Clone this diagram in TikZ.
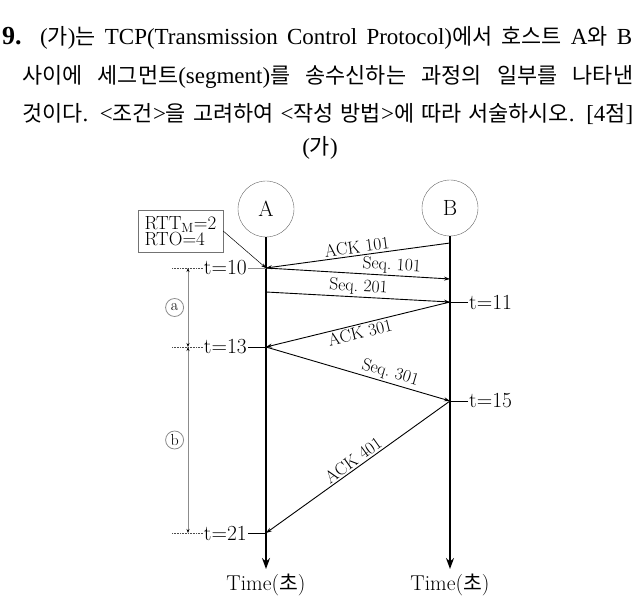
\documentclass[tikz,border=0pt]{standalone}
\usepackage{fontspec}
\newfontfamily\kr[Scale=0.95]{Noto Sans CJK KR}
\newfontfamily\ser{Liberation Serif}
\usetikzlibrary{arrows.meta}
\newcommand\fsz[1]{\fontsize{#1}{#1}\selectfont}

\tikzset{
  host/.style={draw=black!60, circle, minimum size=56pt, inner sep=0pt, font=\fsz{22}},
  life/.style={line width=1.6pt, -{Stealth[length=11pt,width=8pt]}},
  msg/.style={line width=0.9pt, -{Stealth[length=6pt,width=4pt]}},
  msglbl/.style={font=\fsz{17.5}, inner sep=2pt, sloped, above},
  tlbl/.style={font=\fsz{21.5}, inner sep=1pt},
  tick/.style={line width=0.7pt},
  guide/.style={densely dotted, line width=0.6pt, black!70},
  dim/.style={draw=black!45, line width=0.8pt, {Stealth[length=4pt,width=3pt,black]}-{Stealth[length=4pt,width=3pt,black]}},
  circ/.style={draw, circle, minimum size=18pt, inner sep=0pt, font=\fsz{16}},
  titleline/.style={anchor=base west, inner sep=0pt, font=\ser\fsz{23}}
}

\begin{document}
\begin{tikzpicture}[x=1pt, y=-1pt]
    \useasboundingbox (0,0) rectangle (642,612);

    % Question text
    \node (num) at (2,45) [titleline, font=\ser\bfseries\fsz{26}] {9.};
    \node (line1) at (40,45) [titleline] {\makebox[592pt][s]{({\kr 가}){\kr 는} TCP(Transmission Control Protocol){\kr 에서} {\kr 호스트} A{\kr 와} B}};
    \node (line2) at (22,84) [titleline] {\makebox[611pt][s]{{\kr 사이에} {\kr 세그먼트}(segment){\kr 를} {\kr 송수신하는} {\kr 과정의} {\kr 일부를} {\kr 나타낸}}};
    \node (line3) at (22,122) [titleline] {\makebox[611pt][s]{{\kr 것이다}. <{\kr 조건}>{\kr 을} {\kr 고려하여} <{\kr 작성} {\kr 방법}>{\kr 에} {\kr 따라} {\kr 서술하시오}. [4{\kr 점}]}};
    \node (ga) at (320,148) [font=\ser\fsz{23}] {({\kr 가})};

    % Hosts and time lines
    \node (A) at (266,209) [host] {A};
    \node (B) at (450,208) [host] {B};
    \coordinate (Aend) at (266,569);
    \coordinate (Bend) at (450,569);
    \draw[life] (A.south) -- (Aend);
    \draw[life] (B.south) -- (Bend);
    \node (timeA) at (266,585) [tlbl] {Time({\kr 초})};
    \node (timeB) at (450,585) [tlbl] {Time({\kr 초})};

    % Send and receive points
    \coordinate (a10) at (266,268);
    \coordinate (aseq) at (266,292);
    \coordinate (a13) at (266,347);
    \coordinate (a21) at (266,533);
    \coordinate (back) at (450,243);
    \coordinate (bseq) at (450,279);
    \coordinate (b11) at (450,302);
    \coordinate (b15) at (450,401);

    % Segments
    \draw[msg] (back) -- (a10);
    \draw[msg] (a10) -- (bseq);
    \draw[msg] (aseq) -- (b11);
    \draw[msg] (b11) -- (a13);
    \draw[msg] (a13) -- (b15);
    \draw[msg] (b15) -- (a21);
    \path (a10) -- node[msglbl, pos=0.5] {ACK 101} (back);
    \path (a10) -- node[msglbl, pos=0.68] {Seq.~101} (bseq);
    \path (aseq) -- node[msglbl, pos=0.5] {Seq.~201} (b11);
    \path (a13) -- node[msglbl, below, pos=0.5] {ACK 301} (b11);
    \path (a13) -- node[msglbl, pos=0.66] {Seq.~301} (b15);
    \path (a21) -- node[msglbl, pos=0.5] {ACK 401} (b15);

    % Time marks
    \node (t10) at (248,268) [tlbl, anchor=east] {t=10};
    \node (t13) at (248,347) [tlbl, anchor=east] {t=13};
    \node (t21) at (248,533) [tlbl, anchor=east] {t=21};
    \node (t11) at (468,302) [tlbl, anchor=west] {t=11};
    \node (t15) at (468,401) [tlbl, anchor=west] {t=15};
    \draw[tick, black!45] (t10) -- (a10);
    \draw[tick] (t13) -- (a13);
    \draw[tick] (t21) -- (a21);
    \draw[tick] (t11) -- (b11);
    \draw[tick] (t15) -- (b15);

    % Dotted guides
    \coordinate (g10) at (172,268);
    \coordinate (g13) at (172,347);
    \coordinate (g21) at (172,533);
    \draw[guide] (g10) -- (t10.west);
    \draw[guide] (g13) -- (t13.west);
    \draw[guide] (g21) -- (t21.west);

    % Intervals
    \coordinate (d10) at (188,268);
    \coordinate (d13) at (188,347);
    \coordinate (d21) at (188,533);
    \draw[dim] (d10) -- node[circ, left=4pt] {a} (d13);
    \draw[dim] (d13) -- node[circ, left=4pt] {b} (d21);

    % RTT box
    \node (rtt) at (180.5,231) [draw=black!55, align=left, font=\fsz{19}, minimum width=85pt, minimum height=42pt, inner sep=2pt] {RTT$_{\mathrm{M}}$=2\\[-3pt]RTO=4};
    \draw[line width=0.5pt, -{Stealth[length=5pt,width=3.5pt]}] (rtt.east) -- (a10);

\end{tikzpicture}
\end{document}
